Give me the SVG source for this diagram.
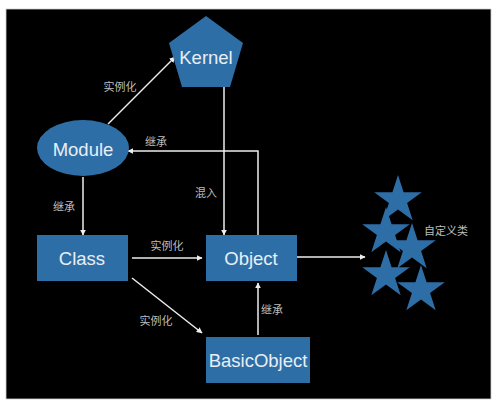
<svg xmlns="http://www.w3.org/2000/svg" width="500" height="406" viewBox="0 0 500 406">
<defs>
<style>
.node{fill:#2e6ea6;}
.nt{font-family:"Liberation Sans",Arial,sans-serif;font-size:18.5px;fill:#e8eef5;text-anchor:middle;dominant-baseline:central;}
.lbl{font-family:"Noto Sans CJK SC","Liberation Sans",sans-serif;font-size:11px;fill:#bdbdbd;text-anchor:middle;dominant-baseline:central;}
.ln{stroke:#eeeeee;stroke-width:1.5;fill:none;}
</style>
<marker id="ah" viewBox="0 0 10 10" refX="9" refY="5" markerWidth="6" markerHeight="6" orient="auto" markerUnits="userSpaceOnUse">
<path d="M0,0 L10,5 L0,10 z" fill="#eeeeee"/>
</marker>
<polygon id="star" points="0,-25 5.6,-7.7 23.8,-7.7 9.1,2.9 14.7,20.2 0,9.5 -14.7,20.2 -9.1,2.9 -23.8,-7.7 -5.6,-7.7"/>
</defs>
<rect x="0" y="0" width="500" height="406" fill="#ffffff"/>
<rect x="6" y="9" width="485" height="390" fill="#000000" stroke="#d0d0d0" stroke-width="0.8"/>
<g id="connectors">
<line class="ln" x1="108" y1="124" x2="175" y2="57" marker-end="url(#ah)"/>
<line class="ln" x1="224" y1="87" x2="224" y2="235" marker-end="url(#ah)"/>
<polyline class="ln" points="258,235 258,151 128,151" marker-end="url(#ah)"/>
<line class="ln" x1="83" y1="177" x2="83" y2="235" marker-end="url(#ah)"/>
<line class="ln" x1="132" y1="258" x2="202" y2="258" marker-end="url(#ah)"/>
<line class="ln" x1="132" y1="278" x2="202" y2="333" marker-end="url(#ah)"/>
<line class="ln" x1="258" y1="335" x2="258" y2="283" marker-end="url(#ah)"/>
<line class="ln" x1="297" y1="257" x2="365" y2="257" marker-end="url(#ah)"/>
<text class="lbl" x="120" y="86">实例化</text>
<text class="lbl" x="206" y="192">混入</text>
<text class="lbl" x="156" y="141">继承</text>
<text class="lbl" x="64" y="206">继承</text>
<text class="lbl" x="167" y="245">实例化</text>
<text class="lbl" x="156" y="320">实例化</text>
<text class="lbl" x="272" y="309">继承</text>
</g>
<g id="kernel">
<polygon class="node" points="206,16 243,43 230,87 182,87 169,43"/>
<text class="nt" x="206" y="57">Kernel</text>
</g>
<g id="module">
<ellipse class="node" cx="83" cy="148" rx="46" ry="28"/>
<text class="nt" x="83" y="149">Module</text>
</g>
<g id="class">
<rect class="node" x="37" y="235" width="91" height="46"/>
<text class="nt" x="82" y="258">Class</text>
</g>
<g id="object">
<rect class="node" x="206" y="235" width="91" height="46"/>
<text class="nt" x="251" y="258">Object</text>
</g>
<g id="basicobject">
<rect class="node" x="206" y="337" width="104" height="46"/>
<text class="nt" x="258" y="360">BasicObject</text>
</g>
<g id="custom-classes">
<use href="#star" class="node" x="398" y="200"/>
<use href="#star" class="node" x="386" y="232"/>
<use href="#star" class="node" x="412" y="248"/>
<use href="#star" class="node" x="386" y="275"/>
<use href="#star" class="node" x="421" y="290"/>
<text class="lbl" x="446" y="230">自定义类</text>
</g>
</svg>
